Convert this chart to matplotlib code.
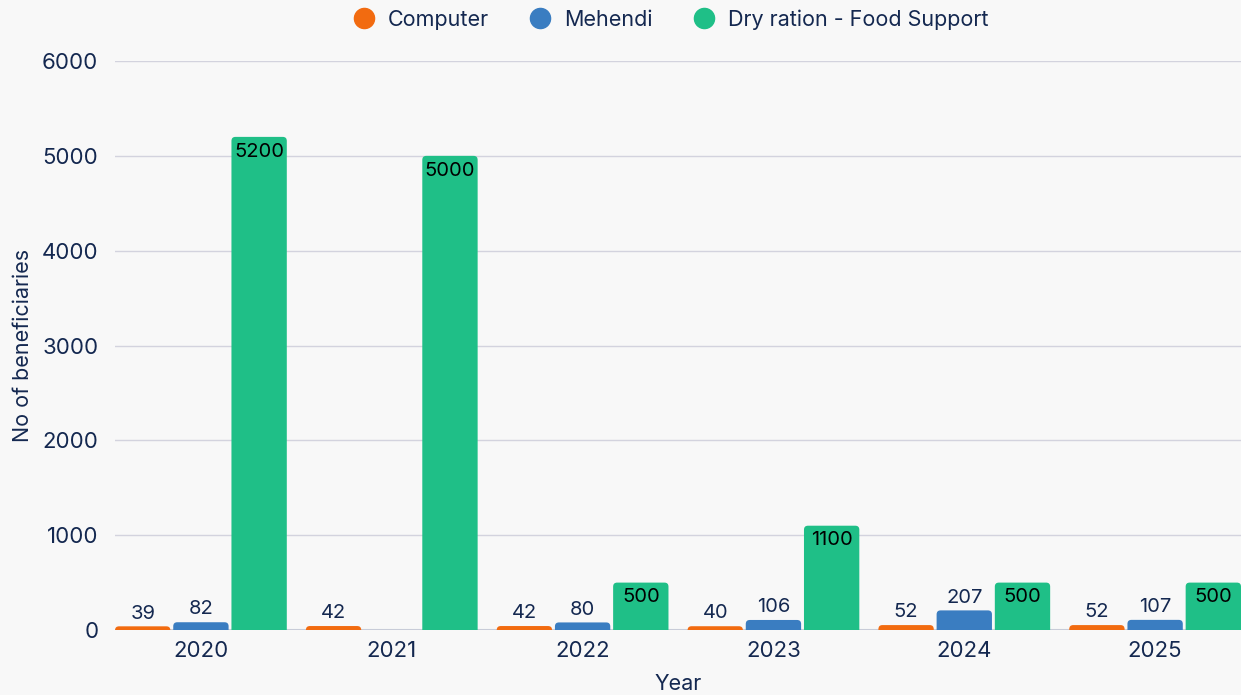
import matplotlib.pyplot as plt
from matplotlib.lines import Line2D
from matplotlib.patches import FancyBboxPatch
import numpy as np

plt.rcParams['font.family'] = ['Inter', 'DejaVu Sans']

YEARS = ["2020", "2021", "2022", "2023", "2024", "2025"]
COMPUTER = [39, 42, 42, 40, 52, 52]
MEHENDI = [82, None, 80, 106, 207, 107]
DRY_RATION = [5200, 5000, 500, 1100, 500, 500]

SERIES = [
    ("Computer", COMPUTER, "#F26B10"),
    ("Mehendi", MEHENDI, "#3A7DC1"),
    ("Dry ration - Food Support", DRY_RATION, "#1FBF87"),
]

TEXT = "#142850"
BG = "#F8F8F8"

fig = plt.figure(figsize=(12.41, 6.95), dpi=100)
fig.patch.set_facecolor(BG)
ax = fig.add_axes([0.0927, 0.0935, 0.9073, 0.8187])
ax.set_facecolor(BG)
ax.set_ylim(0, 6000)
ax.set_xlim(-0.45, 5.45)

x = np.arange(len(YEARS))
width = 0.29
offsets = [-0.305, 0.0, 0.305]

# px -> data conversion for rounded bar tops
bb = ax.get_window_extent()
xpx = 5.9 / bb.width
ypx = 6000 / bb.height
r = 4 * xpx

for (name, vals, color), off in zip(SERIES, offsets):
    for xi, v in zip(x, vals):
        if v is None:
            continue
        bars = ax.bar(xi + off, v, width=width, color=color, zorder=3)
        b = bars[0]
        b.set_visible(False)
        low = -6 * ypx
        patch = FancyBboxPatch((b.get_x(), low), b.get_width(), v - low,
                               boxstyle=f"round,pad=0,rounding_size={r}",
                               mutation_aspect=ypx / xpx,
                               facecolor=color, edgecolor="none", zorder=3)
        ax.add_patch(patch)
        if v > 300:
            ax.text(xi + off, v - 60, f"{v}", ha="center", va="top",
                    fontsize=14.5, color="black", zorder=4)
        else:
            ax.text(xi + off, v + 40, f"{v}", ha="center", va="bottom",
                    fontsize=14.5, color=TEXT, zorder=4)

ax.set_yticks(range(0, 6001, 1000))
ax.set_xticks(x)
ax.set_xticklabels(YEARS)
ax.tick_params(axis="both", length=0, labelsize=16, labelcolor=TEXT)
ax.tick_params(axis="y", pad=12)
ax.tick_params(axis="x", pad=8)
ax.grid(axis="y", color="#D3D3DE", linewidth=1, zorder=0)
ax.axhline(0, color="#C8CCD8", linewidth=1.5, zorder=2)
for s in ax.spines.values():
    s.set_visible(False)

ax.set_ylabel("No of beneficiaries", fontsize=15.5, color=TEXT, labelpad=6)
ax.set_xlabel("Year", fontsize=15.5, color=TEXT, labelpad=9)

handles = [Line2D([], [], marker="o", linestyle="none", markersize=14.5,
                  markerfacecolor=c, markeredgecolor=c, label=n)
           for n, _, c in SERIES]
fig.legend(handles=handles, loc="center", bbox_to_anchor=(0.536, 0.972),
           ncol=3, frameon=False, fontsize=15.5, handletextpad=0.1,
           columnspacing=1.4, labelcolor=TEXT)

fig.savefig("out.png", dpi=100, facecolor=BG)
